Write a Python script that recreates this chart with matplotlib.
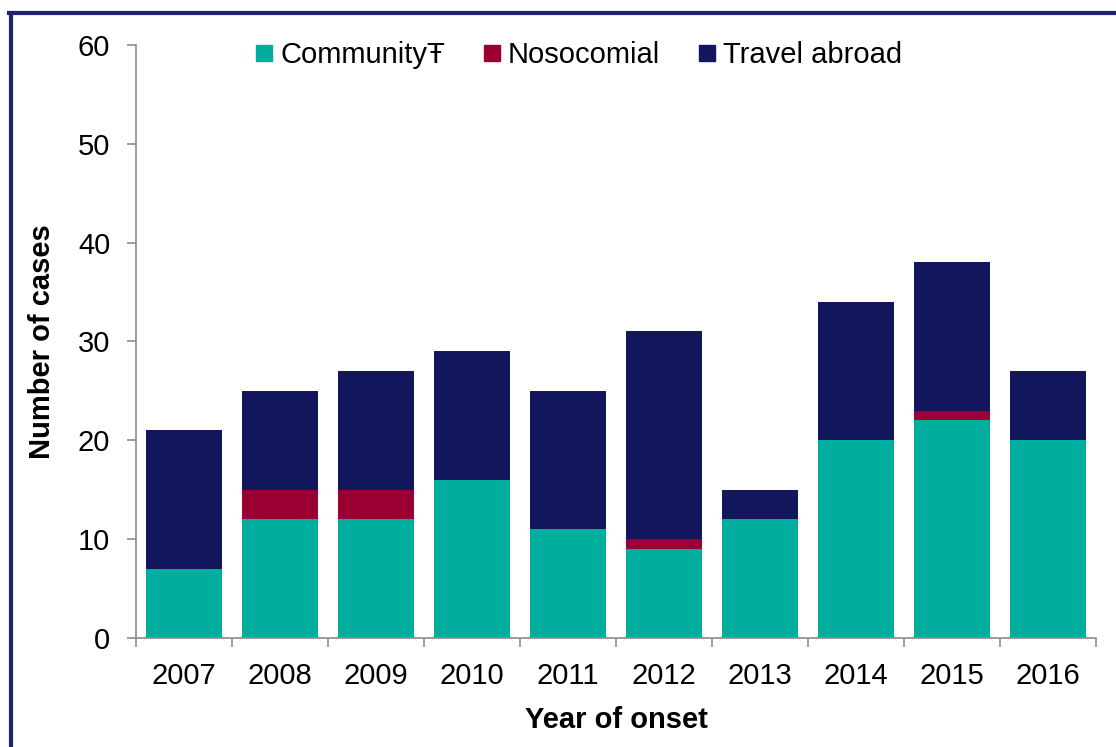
import numpy as np
import matplotlib.pyplot as plt
from matplotlib.lines import Line2D

years = ['2007', '2008', '2009', '2010', '2011', '2012', '2013', '2014', '2015', '2016']
community = [7, 12, 12, 16, 11, 9, 12, 20, 22, 20]
nosocomial = [0, 3, 3, 0, 0, 1, 0, 0, 1, 0]
travel = [14, 10, 12, 13, 14, 21, 3, 14, 15, 7]

c_comm = '#00ae9e'
c_noso = '#9b0033'
c_trav = '#12175e'
grey = '#8c8c8c'
fs = 21

plt.rcParams['font.family'] = ['Liberation Sans', 'DejaVu Sans']

fig = plt.figure(figsize=(11.16, 7.47), dpi=100)
ax = fig.add_axes([0.1219, 0.146, 0.982 - 0.1219, 0.94 - 0.146])

x = np.arange(len(years))
comm = np.array(community)
noso = np.array(nosocomial)
trav = np.array(travel)
w = 0.8
ax.bar(x, comm, w, color=c_comm, label='Community\u0166')
ax.bar(x, noso, w, bottom=comm, color=c_noso, label='Nosocomial')
ax.bar(x, trav, w, bottom=comm + noso, color=c_trav, label='Travel abroad')

ax.set_xlim(-0.5, len(years) - 0.5)
ax.set_ylim(0, 60)
ax.set_yticks(range(0, 61, 10))
ax.set_xticks(x)
ax.set_xticklabels(years)
ax.set_xticks(np.arange(-0.5, len(years)), minor=True)
ax.tick_params(axis='x', which='major', length=0, pad=17, labelsize=fs)
ax.tick_params(axis='x', which='minor', length=6.5, width=1.2, color=grey)
ax.tick_params(axis='y', length=6.5, width=1.2, color=grey, pad=12, labelsize=fs)

for s in ['top', 'right']:
    ax.spines[s].set_visible(False)
for s in ['left', 'bottom']:
    ax.spines[s].set_color(grey)
    ax.spines[s].set_linewidth(1.2)

ax.set_xlabel('Year of onset', fontsize=fs, fontweight='bold', labelpad=12)
ax.set_ylabel('Number of cases', fontsize=fs, fontweight='bold', labelpad=16)

handles = [Line2D([], [], marker='s', linestyle='none', markersize=11, color=c)
           for c in (c_comm, c_noso, c_trav)]
ax.legend(handles, ['Community\u0166', 'Nosocomial', 'Travel abroad'],
          loc='upper center', bbox_to_anchor=(0.458, 1.05), ncol=3, frameon=False,
          fontsize=fs, handletextpad=0.05, columnspacing=1.1, handlelength=1.0)

# dark frame around the chart (left and top visible)
fig.add_artist(Line2D([0.0098, 0.0098], [0, 0.983], color='#1f2470', lw=3, transform=fig.transFigure))
fig.add_artist(Line2D([0.0085, 1.0], [0.983, 0.983], color='#1f2470', lw=3, transform=fig.transFigure))

fig.savefig('out.png', dpi=100)
